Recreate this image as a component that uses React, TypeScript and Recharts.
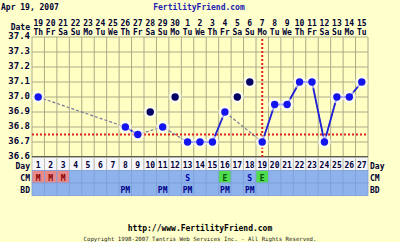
import { ComposedChart, Line, XAxis, YAxis, CartesianGrid, ReferenceLine } from "recharts";

const days = [1, 2, 3, 4, 5, 6, 7, 8, 9, 10, 11, 12, 13, 14, 15, 16, 17, 18, 19, 20, 21, 22, 23, 24, 25, 26, 27];
const dates = ["19", "20", "21", "22", "23", "24", "25", "26", "27", "28", "29", "30", "1", "2", "3", "4", "5", "6", "7", "8", "9", "10", "11", "12", "13", "14", "15"];
const weekdays = ["Th", "Fr", "Sa", "Su", "Mo", "Tu", "We", "Th", "Fr", "Sa", "Su", "Mo", "Tu", "We", "Th", "Fr", "Sa", "Su", "Mo", "Tu", "We", "Th", "Fr", "Sa", "Su", "Mo", "Tu"];
const temps: (number | null)[] = [37.0, null, null, null, null, null, null, 36.8, 36.75, 36.9, 36.8, 37.0, 36.7, 36.7, 36.7, 36.9, 37.0, 37.1, 36.7, 36.95, 36.95, 37.1, 37.1, 36.7, 37.0, 37.0, 37.1];
const excludedDays = [10, 12, 17, 18];
const cmMarks = ["M", "M", "M", "", "", "", "", "", "", "", "", "", "S", "", "", "E", "", "S", "E", "", "", "", "", "", "", "", ""];
const bdMarks = ["", "", "", "", "", "", "", "PM", "", "", "PM", "", "PM", "", "", "PM", "", "PM", "", "", "", "", "", "", "", "", ""];
const tempTicks = [36.6, 36.7, 36.8, 36.9, 37.0, 37.1, 37.2, 37.3, 37.4];
const coverline = 36.75;
const ovulationDay = 19;

const FONT = "'DejaVu Sans Mono', monospace";
const COL_W = 336 / 27;

const isOk = (i: number) => i >= 0 && i < days.length && temps[i] != null && !excludedDays.includes(days[i]);

const data = days.map((d, i) => ({
  day: d,
  all: isOk(i) ? temps[i] : null,
  solid: isOk(i) && (isOk(i - 1) || isOk(i + 1)) ? temps[i] : null,
  excl: excludedDays.includes(d) ? temps[i] : null,
}));

const boundaries = [...days.map((d) => d - 0.5), days[days.length - 1] + 0.5];

const makeDot = (color: string) => (props: any) => {
  const { cx, cy, value, index } = props;
  if (value == null || cy == null || isNaN(cy)) return <g key={`d${index}`} />;
  return (
    <g key={`d${index}`}>
      <circle cx={cx} cy={cy} r={6.5} fill="#ffffff" opacity={0.6} />
      <circle cx={cx} cy={cy} r={3.7} fill={color} />
    </g>
  );
};

const TopTick = ({ x, payload }: any) => {
  const i = payload.value - 1;
  return (
    <g fontFamily={FONT} fontWeight="bold" fontSize={8} fill="#000033">
      <text x={x} y={26} textAnchor="middle">{dates[i]}</text>
      <text x={x} y={35} textAnchor="middle">{weekdays[i]}</text>
    </g>
  );
};

const BottomTick = ({ x, payload }: any) => {
  const i = payload.value - 1;
  const cm = cmMarks[i];
  const cmFill = cm === "M" ? "#e88a8a" : cm === "E" ? "#4fdc4f" : "#8db2ec";
  const cmText = cm === "M" ? "#880000" : cm === "E" ? "#005500" : "#0000aa";
  const left = x - COL_W / 2;
  return (
    <g fontFamily={FONT} fontWeight="bold" fontSize={8}>
      <rect x={left} y={157.5} width={COL_W} height={13} fill="#f6f6ff" stroke="#b8b8a0" strokeWidth={0.8} />
      <text x={x} y={168} textAnchor="middle" fill="#000033">{days[i]}</text>
      <rect x={left} y={170.5} width={COL_W} height={12.5} fill={cmFill} stroke="#7f9fda" strokeWidth={0.8} />
      <text x={x} y={180.5} textAnchor="middle" fill={cmText}>{cm}</text>
      <rect x={left} y={183} width={COL_W} height={12.5} fill="#8db2ec" stroke="#7f9fda" strokeWidth={0.8} />
      <text x={x} y={192.5} textAnchor="middle" fill="#000088">{bdMarks[i]}</text>
    </g>
  );
};

const label = (text: string, x: number, y: number, anchor: "start" | "end" | "middle" = "end") => (
  <text x={x} y={y} textAnchor={anchor} fontFamily={FONT} fontWeight="bold" fontSize={8} fill="#000033">
    {text}
  </text>
);

const yTick = { fontFamily: FONT, fontWeight: "bold", fontSize: 9, fill: "#000033", dy: -1 };

export default function App() {
  return (
    <div style={{ position: "absolute", left: 0, top: 0, width: 400, height: 242, background: "#ffffcc", overflow: "hidden" }}>
      <ComposedChart width={400} height={242} data={data} margin={{ top: 5, right: 0, bottom: 46, left: 0 }}>
        <CartesianGrid vertical={false} stroke="#aaaa88" fill="#ffffc4" />
        {boundaries.map((b) => (
          <ReferenceLine key={b} x={b} stroke="#aaaa88" strokeWidth={1} />
        ))}
        <XAxis dataKey="day" type="number" domain={[0.5, 27.5]} ticks={days} height={39} axisLine={false} tickLine={false} tick={<BottomTick />} interval={0} />
        <XAxis xAxisId="top" orientation="top" dataKey="day" type="number" domain={[0.5, 27.5]} ticks={days} height={32} axisLine={false} tickLine={false} tick={<TopTick />} interval={0} />
        <YAxis yAxisId={0} domain={[36.6, 37.4]} ticks={tempTicks} width={32} axisLine={false} tickLine={false} tickSize={0} tickMargin={2} tickFormatter={(v: number) => v.toFixed(1)} tick={yTick} interval={0} />
        <YAxis yAxisId="r" orientation="right" domain={[36.6, 37.4]} ticks={tempTicks} width={32} axisLine={false} tickLine={false} tickSize={0} tickMargin={4} tickFormatter={(v: number) => v.toFixed(1)} tick={yTick} interval={0} />
        <ReferenceLine y={36.6} stroke="#333333" strokeWidth={1.5} />
        <ReferenceLine y={coverline} stroke="#e02020" strokeWidth={2} strokeDasharray="2 2" />
        <ReferenceLine x={ovulationDay} stroke="#e02020" strokeWidth={2} strokeDasharray="2 2" />
        <Line dataKey="all" connectNulls stroke="#77779a" strokeWidth={1.2} strokeDasharray="3 2" dot={false} isAnimationActive={false} />
        <Line dataKey="solid" connectNulls={false} stroke="#2020d8" strokeWidth={1.8} dot={false} isAnimationActive={false} />
        <Line dataKey="all" stroke="none" dot={makeDot("#1414ee")} activeDot={false} isAnimationActive={false} />
        <Line dataKey="excl" stroke="none" dot={makeDot("#000066")} activeDot={false} isAnimationActive={false} />
      </ComposedChart>
      <svg width={400} height={242} style={{ position: "absolute", left: 0, top: 0, pointerEvents: "none" }}>
        {label("Apr 19, 2007", 1, 10, "start")}
        <text x={199} y={10} textAnchor="middle" fontFamily={FONT} fontWeight="bold" fontSize={8} fill="#2020b0">FertilityFriend.com</text>
        {label("Date", 30, 30)}
        {label("Day", 30, 168.5)}
        {label("CM", 30, 180.5)}
        {label("BD", 30, 192.5)}
        {label("Day", 370, 168.5, "start")}
        {label("CM", 370, 180.5, "start")}
        {label("BD", 370, 192.5, "start")}
        <text x={200} y={231} textAnchor="middle" fontFamily={FONT} fontWeight="bold" fontSize={8} fill="#000000">http://www.FertilityFriend.com</text>
        <text x={200} y={240.5} textAnchor="middle" fontFamily={FONT} fontSize={5.7} fill="#222222">Copyright 1998-2007 Tantris Web Services Inc. - All Rights Reserved.</text>
      </svg>
    </div>
  );
}
